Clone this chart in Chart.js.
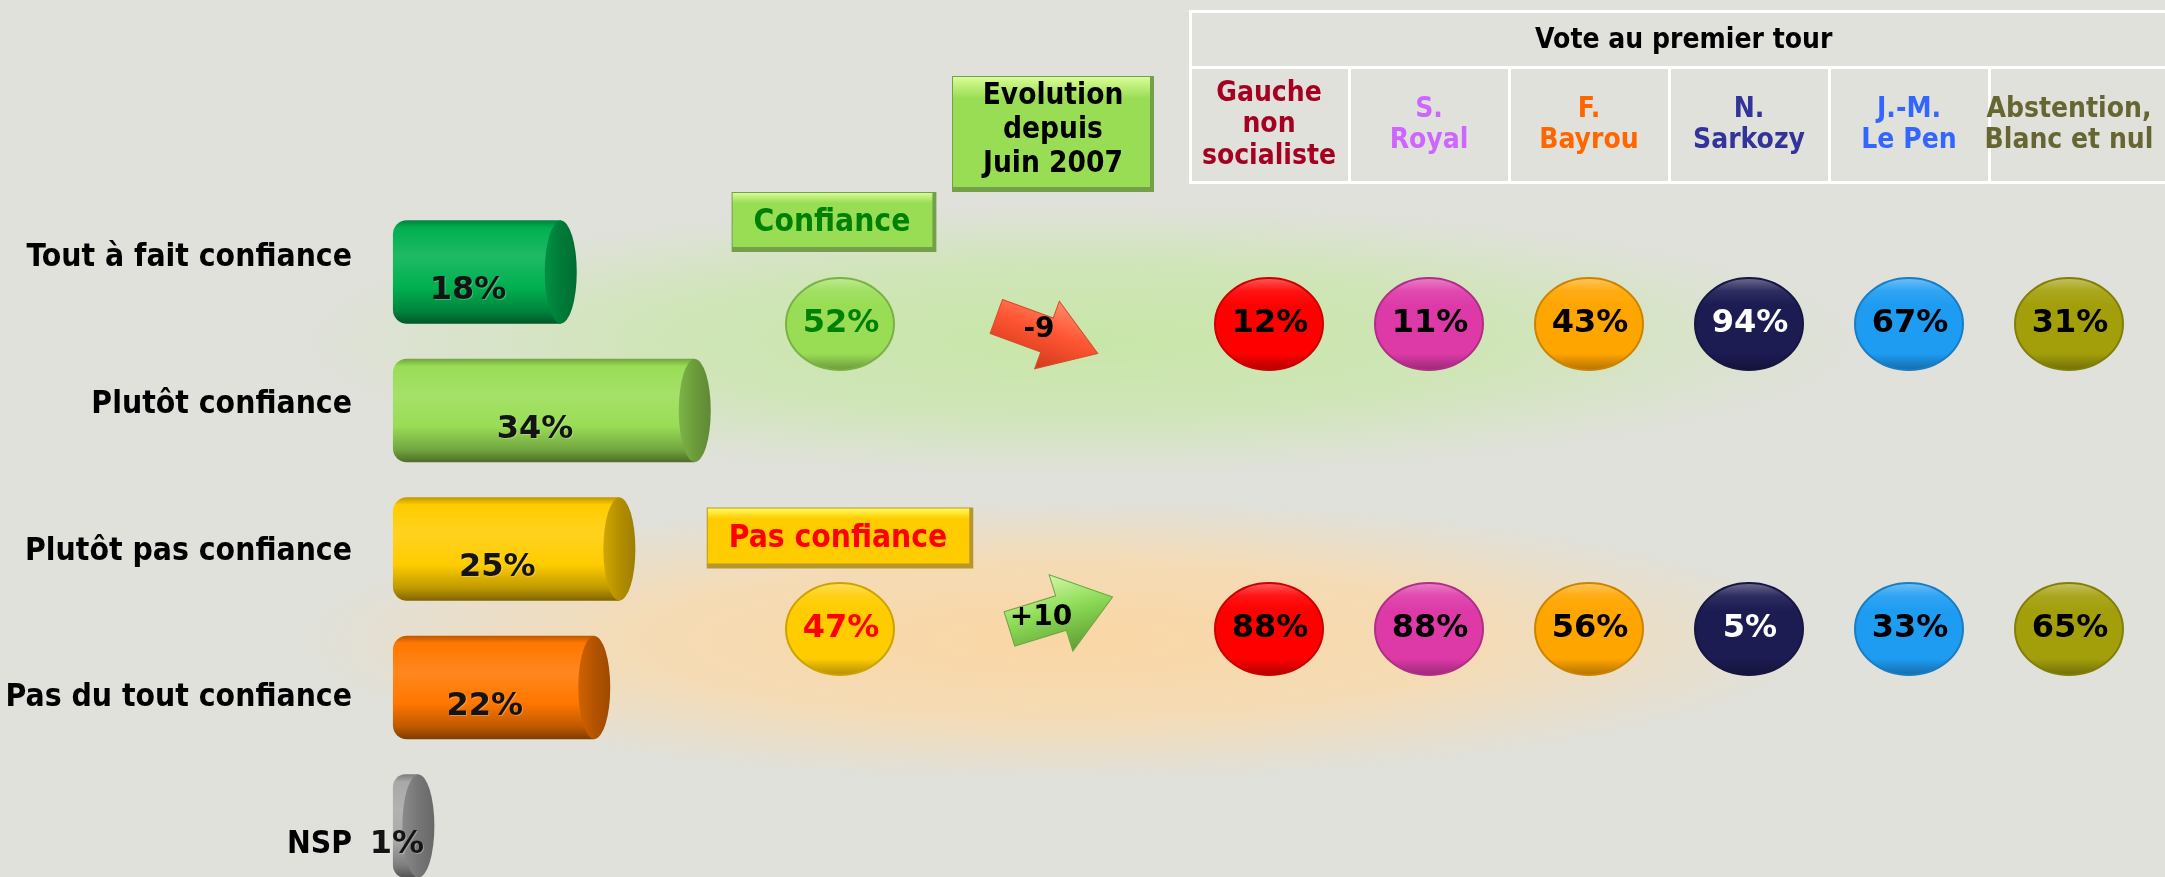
<!DOCTYPE html>
<html lang="fr">
<head>
<meta charset="utf-8">
<title>Confiance</title>
<script src="https://cdn.jsdelivr.net/npm/chart.js@4.4.1/dist/chart.umd.min.js"></script>
<style>
  html, body { margin: 0; padding: 0; }
  body {
    width: 2165px; height: 877px; overflow: hidden; position: relative;
    background:
      radial-gradient(ellipse 780px 135px at 1080px 340px, rgba(200,230,168,1) 0%, rgba(205,230,178,0.85) 55%, rgba(224,225,219,0) 100%),
      radial-gradient(ellipse 760px 140px at 1060px 640px, rgba(250,214,164,1) 0%, rgba(248,218,174,0.85) 55%, rgba(224,225,219,0) 100%),
      #e0e1db;
  }
  canvas { position: absolute; top: 0; }
  #barres { left: 0; }
  #ensemble { left: 700px; }
  #tableau { left: 1180px; }
</style>
</head>
<body>
<canvas id="barres" width="745" height="877"></canvas>
<canvas id="ensemble" width="480" height="877"></canvas>
<canvas id="tableau" width="985" height="877"></canvas>
<script>
// données
const reponses = ['Tout à fait confiance', 'Plutôt confiance', 'Plutôt pas confiance', 'Pas du tout confiance', 'NSP'];
const scoresReponses = [18, 34, 25, 22, 1];

const groupes = ['Confiance', 'Pas confiance'];
const ensemble = [52, 47];
const evolution = [-9, 10];
const colonnesEnsemble = ['Ensemble', 'Evolution\ndepuis\nJuin 2007'];

const votes = ['Gauche\nnon\nsocialiste', 'S.\nRoyal', 'F.\nBayrou', 'N.\nSarkozy', 'J.-M.\nLe Pen', 'Abstention,\nBlanc et nul'];
const confianceVote = [12, 11, 43, 94, 67, 31];
const pasConfianceVote = [88, 88, 56, 5, 33, 65];

// styles
const couleursReponses = ['#00b050', '#99dd55', '#ffcc00', '#ff7700', '#a8a8a8'];
const couleursVotes = ['#ff0000', '#dd3aa8', '#ffa500', '#1c1b52', '#1e9cf2', '#a39f0a'];
const titresVotes = ['#a50021', '#cc66ff', '#ff6600', '#333399', '#3366ff', '#666633'];
const POLICE = "'DejaVu Sans', sans-serif";
const POLICE_C = "'DejaVu Sans Condensed', 'DejaVu Sans', sans-serif";

Chart.defaults.font.family = POLICE_C;

function mix(hex, cible, t) {
  const a = parseInt(hex.slice(1), 16), b = parseInt(cible.slice(1), 16);
  const ch = s => Math.round(((a >> s) & 255) * (1 - t) + ((b >> s) & 255) * t);
  return 'rgb(' + ch(16) + ',' + ch(8) + ',' + ch(0) + ')';
}

function cylindre(c) {
  if (c.dataIndex === undefined) return '#cccccc';
  const base = couleursReponses[c.dataIndex];
  const s = c.chart.scales.y;
  if (!s) return base;
  const yc = s.getPixelForValue(c.dataIndex);
  if (!isFinite(yc)) return base;
  const g = c.chart.ctx.createLinearGradient(0, yc - 51.5, 0, yc + 51.5);
  g.addColorStop(0, mix(base, '#000000', 0.25));
  g.addColorStop(0.07, base);
  g.addColorStop(0.35, mix(base, '#ffffff', 0.12));
  g.addColorStop(0.65, base);
  g.addColorStop(0.88, mix(base, '#000000', 0.25));
  g.addColorStop(1, mix(base, '#000000', 0.5));
  return g;
}

function ovale(ctx, x, y, couleur, texte, couleurTexte) {
  const rx = 54, ry = 46;
  const g = ctx.createLinearGradient(0, y - ry, 0, y + ry);
  g.addColorStop(0, mix(couleur, '#ffffff', 0.35));
  g.addColorStop(0.14, mix(couleur, '#ffffff', 0.08));
  g.addColorStop(0.3, couleur);
  g.addColorStop(0.82, couleur);
  g.addColorStop(1, mix(couleur, '#000000', 0.3));
  ctx.save();
  ctx.beginPath();
  ctx.ellipse(x, y, rx, ry, 0, 0, Math.PI * 2);
  ctx.fillStyle = g;
  ctx.fill();
  ctx.lineWidth = 2;
  ctx.strokeStyle = mix(couleur, '#000000', 0.2);
  ctx.stroke();
  ctx.font = 'bold 32px ' + POLICE;
  ctx.fillStyle = couleurTexte;
  ctx.textAlign = 'center';
  ctx.textBaseline = 'middle';
  ctx.fillText(texte, x + 1, y);
  ctx.restore();
}

function boite(ctx, cx, cy, w, h, couleur, clair, sombre) {
  const x = cx - w / 2, y = cy - h / 2;
  ctx.fillStyle = sombre;
  ctx.fillRect(x, y, w, h);
  const g = ctx.createLinearGradient(0, y, 0, y + h - 5);
  g.addColorStop(0, clair);
  g.addColorStop(0.2, couleur);
  g.addColorStop(1, couleur);
  ctx.fillStyle = g;
  ctx.fillRect(x + 1, y + 1, w - 5, h - 6);
}

function fleche(ctx, x, y, v) {
  const monte = v > 0;
  const tete = monte ? 40 : 36;
  ctx.save();
  ctx.translate(x, y);
  ctx.rotate(monte ? -0.3 : 0.35);
  ctx.beginPath();
  ctx.moveTo(-54, -18);
  ctx.lineTo(0, -18);
  ctx.lineTo(0, -tete);
  ctx.lineTo(54, 0);
  ctx.lineTo(0, tete);
  ctx.lineTo(0, 18);
  ctx.lineTo(-54, 18);
  ctx.closePath();
  const g = ctx.createLinearGradient(0, -tete, 0, tete);
  if (monte) {
    g.addColorStop(0, '#d2f7a6'); g.addColorStop(0.45, '#8edc58'); g.addColorStop(1, '#5e9e34');
  } else {
    g.addColorStop(0, '#ff8a6a'); g.addColorStop(0.45, '#ff5533'); g.addColorStop(1, '#d23a1a');
  }
  ctx.fillStyle = g;
  ctx.fill();
  ctx.lineWidth = 1;
  ctx.strokeStyle = monte ? '#6aa640' : '#d84a2a';
  ctx.stroke();
  ctx.restore();
}

const cylindres = {
  id: 'cylindres',
  afterDatasetsDraw(chart) {
    const ctx = chart.ctx;
    chart.getDatasetMeta(0).data.forEach((bar, i) => {
      const { x, y, base, height } = bar.getProps(['x', 'y', 'base', 'height'], true);
      const c = couleursReponses[i];
      const g = ctx.createLinearGradient(x - 16, 0, x + 16, 0);
      g.addColorStop(0, mix(c, '#000000', 0.18));
      g.addColorStop(0.5, mix(c, '#000000', 0.3));
      g.addColorStop(1, mix(c, '#000000', 0.38));
      ctx.save();
      ctx.beginPath();
      ctx.ellipse(x, y, 16, height / 2, 0, 0, Math.PI * 2);
      ctx.fillStyle = g;
      ctx.fill();
      ctx.font = 'bold 32px ' + POLICE;
      ctx.textAlign = 'center';
      ctx.textBaseline = 'alphabetic';
      ctx.fillStyle = 'rgba(255,255,255,0.25)';
      ctx.fillText(scoresReponses[i] + '%', (base + x) / 2 - 8, y + 28);
      ctx.fillStyle = '#141414';
      ctx.fillText(scoresReponses[i] + '%', (base + x) / 2 - 9, y + 27);
      ctx.restore();
    });
  }
};

new Chart(document.getElementById('barres'), {
  type: 'bar',
  data: {
    datasets: [{
      label: 'Ensemble',
      data: scoresReponses.map((v, i) => ({ x: v, y: i })),
      xAxisID: 'x',
      yAxisID: 'y',
      base: -2,
      clip: false,
      barThickness: 103,
      borderSkipped: false,
      borderRadius: { topLeft: 14, bottomLeft: 14, topRight: 0, bottomRight: 0 },
      backgroundColor: cylindre
    }]
  },
  options: {
    indexAxis: 'y',
    responsive: false,
    animation: false,
    devicePixelRatio: 1,
    events: [],
    layout: { padding: 0 },
    plugins: { legend: { display: false }, tooltip: { enabled: false } },
    scales: {
      x: { type: 'linear', min: 0, max: 40, display: false },
      y: { type: 'linear', reverse: true, offset: false, grid: { offset: false }, min: -1.964, max: 4.368, display: false },
      yRep: {
        type: 'linear', position: 'left', reverse: true, offset: false, min: -1.758, max: 4.218,
        grid: { display: false, drawTicks: false, offset: false },
        border: { display: false },
        afterBuildTicks: s => { s.ticks = reponses.map((r, i) => ({ value: i })); },
        afterFit: s => { s.width = 410; s.paddingTop = 0; s.paddingBottom = 0; },
        ticks: {
          padding: 58, color: '#000000',
          font: { size: 31.6, weight: 'bold' },
          callback: v => reponses[v]
        }
      }
    }
  },
  plugins: [cylindres]
});

const pastilles = {
  id: 'pastilles',
  afterDatasetsDraw(chart) {
    const ctx = chart.ctx;
    const xs = chart.scales.x;
    // en-tête évolution
    const xe = xs.getPixelForValue(1);
    boite(ctx, xe + 1, 134, 202, 116, '#99dd55', '#ddff99', '#74a04c');
    ctx.font = 'bold 29.5px ' + POLICE_C;
    ctx.fillStyle = '#000000';
    ctx.textAlign = 'center';
    ctx.textBaseline = 'middle';
    colonnesEnsemble[1].split('\n').forEach((l, k) => ctx.fillText(l, xe + 1, 130 + (k - 1) * 34));

    chart.getDatasetMeta(0).data.forEach((pt, i) => {
      const conf = i === 0;
      ctx.font = 'bold 31.5px ' + POLICE_C;
      const w = ctx.measureText(groupes[i]).width + 48;
      const by = pt.y - (conf ? 102 : 91);
      const bx = pt.x - (conf ? 6 : 0);
      if (conf) boite(ctx, bx, by, w, 60, '#99dd55', '#ddff99', '#74a04c');
      else boite(ctx, bx, by, w, 61, '#ffcc00', '#ffff66', '#b8962e');
      ctx.fillStyle = conf ? '#008000' : '#ff0000';
      ctx.textAlign = 'center';
      ctx.textBaseline = 'middle';
      ctx.fillText(groupes[i], bx - 2, by + 1);
      ovale(ctx, pt.x, pt.y, conf ? '#99dd55' : '#ffcc00', ensemble[i] + '%', conf ? '#008000' : '#ff0000');
    });

    chart.getDatasetMeta(1).data.forEach((pt, i) => {
      const v = evolution[i];
      if (v > 0) fleche(ctx, pt.x + 9, pt.y - 16, v);
      else fleche(ctx, pt.x - 5, pt.y + 11, v);
      ctx.font = 'bold 28px ' + POLICE;
      ctx.fillStyle = '#000000';
      ctx.textAlign = 'center';
      ctx.textBaseline = 'middle';
      ctx.fillText((v > 0 ? '+' : '') + v, pt.x - (v > 0 ? 11 : 13), pt.y + (v > 0 ? -11 : 6));
    });
  }
};

new Chart(document.getElementById('ensemble'), {
  type: 'scatter',
  data: {
    datasets: [
      { label: 'Ensemble', data: groupes.map(g => ({ x: colonnesEnsemble[0], y: g })) },
      { label: 'Evolution', data: groupes.map(g => ({ x: colonnesEnsemble[1], y: g })) }
    ]
  },
  options: {
    responsive: false,
    animation: false,
    devicePixelRatio: 1,
    events: [],
    elements: { point: { radius: 0, hoverRadius: 0 } },
    layout: { padding: { left: 34, right: 22, top: 171.5, bottom: 95.5 } },
    plugins: { legend: { display: false }, tooltip: { enabled: false } },
    scales: {
      x: { type: 'category', labels: colonnesEnsemble, offset: true, display: false },
      y: { type: 'category', labels: groupes, offset: true, display: false }
    }
  },
  plugins: [pastilles]
});

const grille = {
  id: 'grille',
  afterDatasetsDraw(chart) {
    const ctx = chart.ctx;
    const xs = chart.scales.x;
    const demi = (xs.getPixelForValue(1) - xs.getPixelForValue(0)) / 2;
    const gauche = xs.getPixelForValue(0) - demi + 1.5;
    const droite = chart.width + 12;
    ctx.save();
    ctx.strokeStyle = '#ffffff';
    ctx.lineWidth = 3;
    ctx.beginPath();
    [11.5, 67.5, 182.5].forEach(y => { ctx.moveTo(gauche - 1.5, y); ctx.lineTo(chart.width, y); });
    ctx.moveTo(gauche, 10); ctx.lineTo(gauche, 184);
    votes.forEach((v, i) => {
      if (i === 0) return;
      const xb = xs.getPixelForValue(i) - demi + 0.5;
      ctx.moveTo(xb, 67.5); ctx.lineTo(xb, 182.5);
    });
    ctx.stroke();

    ctx.fillStyle = '#000000';
    ctx.textAlign = 'center';
    ctx.textBaseline = 'middle';
    ctx.font = 'bold 28px ' + POLICE_C;
    ctx.fillText('Vote au premier tour', (gauche + droite) / 2, 41);

    votes.forEach((nom, i) => {
      const cx = xs.getPixelForValue(i);
      const lignes = nom.split('\n');
      ctx.fillStyle = titresVotes[i];
      lignes.forEach((l, k) => ctx.fillText(l, cx, 125 + (k - (lignes.length - 1) / 2) * 31.5));
    });
    ctx.restore();

    chart.getDatasetMeta(0).data.forEach((pt, i) => {
      ovale(ctx, pt.x, pt.y, couleursVotes[i], confianceVote[i] + '%', i === 3 ? '#ffffff' : '#000000');
    });
    chart.getDatasetMeta(1).data.forEach((pt, i) => {
      ovale(ctx, pt.x, pt.y, couleursVotes[i], pasConfianceVote[i] + '%', i === 3 ? '#ffffff' : '#000000');
    });
  }
};

new Chart(document.getElementById('tableau'), {
  type: 'scatter',
  data: {
    datasets: [
      { label: groupes[0], data: votes.map(v => ({ x: v, y: groupes[0] })) },
      { label: groupes[1], data: votes.map(v => ({ x: v, y: groupes[1] })) }
    ]
  },
  options: {
    responsive: false,
    animation: false,
    devicePixelRatio: 1,
    events: [],
    elements: { point: { radius: 0, hoverRadius: 0 } },
    layout: { padding: { left: 9, right: 16, top: 171.5, bottom: 95.5 } },
    plugins: { legend: { display: false }, tooltip: { enabled: false } },
    scales: {
      x: { type: 'category', labels: votes, offset: true, display: false },
      y: { type: 'category', labels: groupes, offset: true, display: false }
    }
  },
  plugins: [grille]
});
</script>
</body>
</html>
